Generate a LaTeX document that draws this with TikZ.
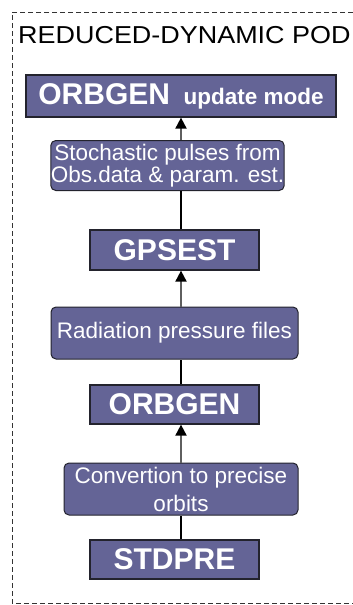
\documentclass[tikz,border=0pt]{standalone}
\usepackage{graphicx}
\usepackage{fontspec}
\setmainfont{Liberation Sans}
\usetikzlibrary{arrows.meta}
\definecolor{boxfill}{RGB}{100,100,150}
\definecolor{boxline}{RGB}{35,35,45}
\definecolor{arrline}{RGB}{95,95,95}
\tikzset{
	progbox/.style={draw=boxline,fill=boxfill,line width=1.2pt,text=white,inner sep=0pt,
		font=\bfseries\fontsize{30}{30}\selectfont},
	stepbox/.style={draw=boxline,fill=boxfill,line width=1pt,rounded corners=5pt,text=white,
		inner sep=0pt,align=center,font=\fontsize{22.5}{22}\selectfont},
	flow/.style={draw=arrline,line width=1.8pt,-{Triangle[width=11pt,length=11pt,color=black]}},
	link/.style={draw=black,line width=1.2pt},
}
\begin{document}
\begin{tikzpicture}[x=1pt,y=-1pt]
	\useasboundingbox (0,0) rectangle (353,605);
	%Khung ngoai
	\draw[black!80,line width=1pt,dash pattern=on 5pt off 3pt] (353,12) -| (12,603) -- (353,603);
	\node (title) at (18,35) [anchor=west,inner sep=0pt]
		{\scalebox{1.1}[1]{\fontsize{24.5}{24.5}\selectfont REDUCED-DYNAMIC POD}};
	\coordinate (ax) at (181,0);
	%Hop 1
	\node (upd) at (181,96) [progbox,minimum width=310pt,minimum height=42pt]
		{ORBGEN\hspace{0.45em}{\fontsize{22.5}{22}\selectfont update mode}};
	%Hop 2
	\node (stoch) at (167.5,165.5) [stepbox,minimum width=233pt,minimum height=50pt]
		{Stochastic pulses from\\Obs.data \& param. est.};
	%Hop 3
	\node (gps) at (174.5,250) [progbox,minimum width=169pt,minimum height=40pt] {GPSEST};
	%Hop 4
	\node (rad) at (174.5,333) [stepbox,minimum width=247pt,minimum height=52pt]
		{Radiation pressure files};
	%Hop 5
	\node (orb) at (174.5,404.5) [progbox,minimum width=169pt,minimum height=39pt] {ORBGEN};
	%Hop 6
	\node (conv) at (181,489) [stepbox,minimum width=234pt,minimum height=52pt,
		font=\fontsize{22.5}{28}\selectfont] {Convertion to precise\\orbits};
	%Hop 7
	\node (std) at (174.5,559.5) [progbox,minimum width=169pt,minimum height=39pt] {STDPRE};
	%Mui ten
	\draw[link] (std.north -| ax) -- (conv.south -| ax);
	\draw[flow] (conv.north -| ax) -- (orb.south -| ax);
	\draw[link] (orb.north -| ax) -- (rad.south -| ax);
	\draw[flow] (rad.north -| ax) -- (gps.south -| ax);
	\draw[link] (gps.north -| ax) -- (stoch.south -| ax);
	\draw[flow] (stoch.north -| ax) -- (upd.south -| ax);
\end{tikzpicture}
\end{document}
